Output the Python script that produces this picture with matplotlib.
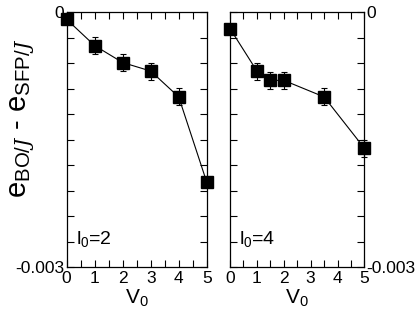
import matplotlib
matplotlib.use("Agg")
import matplotlib.pyplot as plt
from matplotlib.ticker import MultipleLocator

plt.rcParams['font.family'] = ['Liberation Sans', 'DejaVu Sans']
plt.rcParams['mathtext.fontset'] = 'custom'
plt.rcParams['mathtext.rm'] = 'Liberation Sans'
plt.rcParams['mathtext.it'] = 'Liberation Sans:italic'
plt.rcParams['mathtext.cal'] = 'DejaVu Serif:italic'

# l0 = 2 panel
v0_l2 = [0, 1, 2, 3, 4, 5]
de_l2 = [-0.00008, -0.00039, -0.00059, -0.00069, -0.000995, -0.002]
err_l2 = [0.00003, 0.0001, 0.0001, 0.0001, 0.0001, 0.00003]

# l0 = 4 panel
v0_l4 = [0, 1, 1.5, 2, 3.5, 5]
de_l4 = [-0.00019, -0.00069, -0.0008, -0.0008, -0.000995, -0.0016]
err_l4 = [0.00003, 0.0001, 0.0001, 0.0001, 0.0001, 0.0001]

panels = [
    (v0_l2, de_l2, err_l2, r'$\mathregular{l_0}$=2', 'left'),
    (v0_l4, de_l4, err_l4, r'$\mathregular{l_0}$=4', 'right'),
]

fig = plt.figure(figsize=(4.16, 3.12), dpi=100)
rects = [[0.160, 0.144, 0.337, 0.816], [0.553, 0.144, 0.323, 0.816]]

for rect, (x, y, e, lab, side) in zip(rects, panels):
    ax = fig.add_axes(rect)
    lines = ax.errorbar(x, y, yerr=e, color='black', lw=0.8, marker='s', ms=8,
                        mfc='black', mec='black', capsize=2.5, elinewidth=0.8,
                        capthick=0.8, zorder=3)
    for art in lines.lines[0:1] + tuple(lines.lines[1]) + tuple(lines.lines[2]):
        art.set_clip_on(False)
    ax.set_xlim(0, 5)
    ax.set_ylim(-0.003, 0)
    ax.xaxis.set_major_locator(MultipleLocator(1))
    ax.xaxis.set_minor_locator(MultipleLocator(0.5))
    ax.tick_params(which='both', direction='in', top=True, right=True,
                   length=5, width=0.8, labelsize=12.5, pad=3)
    ax.set_yticks([-0.003 + 0.0003 * i for i in range(11)])
    ax.set_yticklabels(['-0.003'] + [''] * 9 + ['0'])
    ax.tick_params(axis='y', pad=1.5)
    if side == 'right':
        ax.tick_params(axis='y', labelleft=False, labelright=True)
    for s in ax.spines.values():
        s.set_linewidth(0.9)
    ax.set_xlabel(r'$\mathregular{V_0}$', fontsize=15, labelpad=1)
    ax.text(0.07, 0.09, lab, transform=ax.transAxes, fontsize=14)

fig.text(0.055, 0.62,
         r'$\mathregular{e_{BO/\mathcal{J}}\ \text{-}\ e_{SFP/\mathcal{J}}}$',
         rotation=90, fontsize=21, ha='center', va='center')

fig.savefig('out.png', dpi=100)
